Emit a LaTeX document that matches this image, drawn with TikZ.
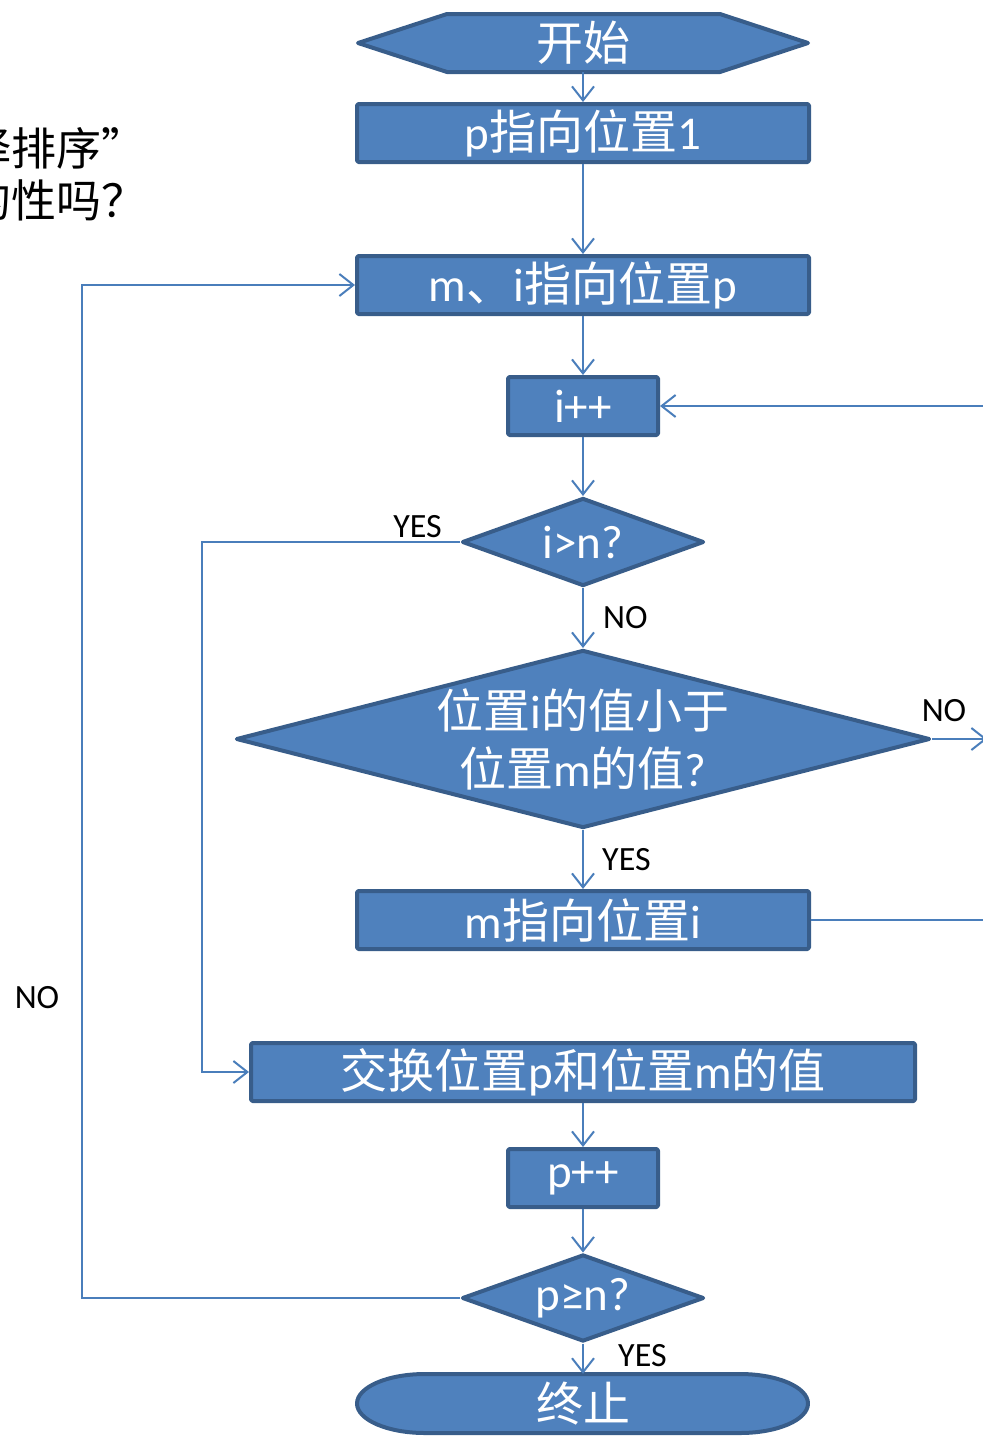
\documentclass[tikz,border=0pt]{standalone}
\usepackage{fontspec}
\setmainfont{Carlito}
\newfontfamily\cjk{Noto Sans CJK SC}
\usetikzlibrary{arrows.meta,shapes.geometric}

\definecolor{boxblue}{HTML}{4F81BD}
\definecolor{boxedge}{HTML}{385D8A}
\definecolor{lineblue}{HTML}{4A7EBB}
\newcommand\zh[1]{{\cjk #1}}

\begin{document}
\begin{tikzpicture}[x=1pt,y=-1pt,
    >={Straight Barb[length=14pt,width=22pt]},
    flowline/.style={draw=lineblue,line width=2pt,->},
    flowshape/.style={fill=boxblue,draw=boxedge,line width=4pt,line join=round},
    flowtext/.style={text=white,inner sep=0pt,font=\fontsize{47}{58}\selectfont},
    flowbox/.style={flowshape,flowtext,rectangle,rounded corners=1.5pt,minimum height=58pt},
    decision/.style={flowshape,diamond,inner sep=0pt},
    flowlabel/.style={inner sep=0pt,font=\fontsize{34}{38}\selectfont},
    note/.style={inner sep=0pt,anchor=west,font=\cjk\fontsize{45}{50}\selectfont}]

    \useasboundingbox (0,0) rectangle (983,1436);
    \clip (0,0) rectangle (983,1436);

    \node[note] (note1) at (-34,148) {择排序”};
    \node[note] (note2) at (-34,200) {的性吗？};

    % start and stop shapes
    \path[flowshape] (358,43) -- (447,14) -- (720,14) -- (808,43) -- (720,72) -- (447,72) -- cycle;
    \node[flowtext,minimum width=452pt,minimum height=58pt] (start) at (583,43) {\zh{开始}};

    \path[flowshape] (425,1374) -- (740,1374) arc[start angle=90,end angle=-90,x radius=68pt,y radius=29.5pt]
      -- (425,1433) arc[start angle=270,end angle=90,x radius=68pt,y radius=29.5pt] -- cycle;
    \node[flowtext,minimum width=452pt,minimum height=59pt] (stop) at (583,1403.5) {\zh{终止}};

    % steps
    \node[flowbox,minimum width=452pt] (setp)  at (583,133)  {p\zh{指向位置}1};
    \node[flowbox,minimum width=452pt] (setmi) at (583,285)  {m\zh{、}i\zh{指向位置}p};
    \node[flowbox,minimum width=150pt] (incri) at (583,406)  {i++};
    \node[decision,minimum width=242pt,minimum height=88pt,
      label={[flowtext]center:{i>n?}}] (testi) at (583,542) {};
    \node[decision,minimum width=694pt,minimum height=178pt,
      label={[flowtext,align=center]center:{\zh{位置}i\zh{的值小于}\\\zh{位置}m\zh{的值}?}}] (testm) at (583,739) {};
    \node[flowbox,minimum width=452pt] (setm)  at (583,920)  {m\zh{指向位置}i};
    \node[flowbox,minimum width=664pt] (swap)  at (583,1072) {\zh{交换位置}p\zh{和位置}m\zh{的值}};
    \node[flowbox,minimum width=150pt] (incrp) at (583,1178) {p++};
    \node[decision,minimum width=242pt,minimum height=87pt,
      label={[flowtext]center:{p≥n?}}] (testp) at (583,1298) {};

    \coordinate (loopno) at (987,739);
    \coordinate (loopturn) at (987,920);

    % connectors
    \draw[flowline] (start) -- (setp);
    \draw[flowline] (setp) -- (setmi);
    \draw[flowline] (setmi) -- (incri);
    \draw[flowline] (incri) -- (testi);
    \draw[flowline] (testi) -- (testm);
    \draw[flowline] (testm) -- (setm);
    \draw[flowline] (testm.east) -- (loopno);
    \draw[flowline] (setm.east) -- (loopturn) |- (incri.east);
    \draw[flowline] (testi.west) -| ([xshift=-47pt]swap.west) -- (swap.west);
    \draw[flowline] (swap) -- (incrp);
    \draw[flowline] (incrp) -- (testp);
    \draw[flowline] (testp) -- (stop.north);
    \draw[flowline] (testp.west) -| ([xshift=-273pt]setmi.west) -- (setmi.west);

    % labels
    \node[flowlabel,anchor=south east] (yesi) at ([xshift=-18pt,yshift=4pt]testi.west) {YES};
    \node[flowlabel,anchor=west] (noi) at ([xshift=20pt,yshift=-30pt]testi.south) {NO};
    \node[flowlabel,anchor=west] (yesm) at ([xshift=19pt,yshift=-30pt]testm.south) {YES};
    \node[flowlabel,anchor=south] (nom) at ([xshift=12pt,yshift=17pt]testm.east) {NO};
    \node[flowlabel,anchor=west] (yesp) at ([xshift=35pt,yshift=-12pt]testp.south) {YES};
    \node[flowlabel] (nop) at (37,998) {NO};
  \end{tikzpicture}
\end{document}
